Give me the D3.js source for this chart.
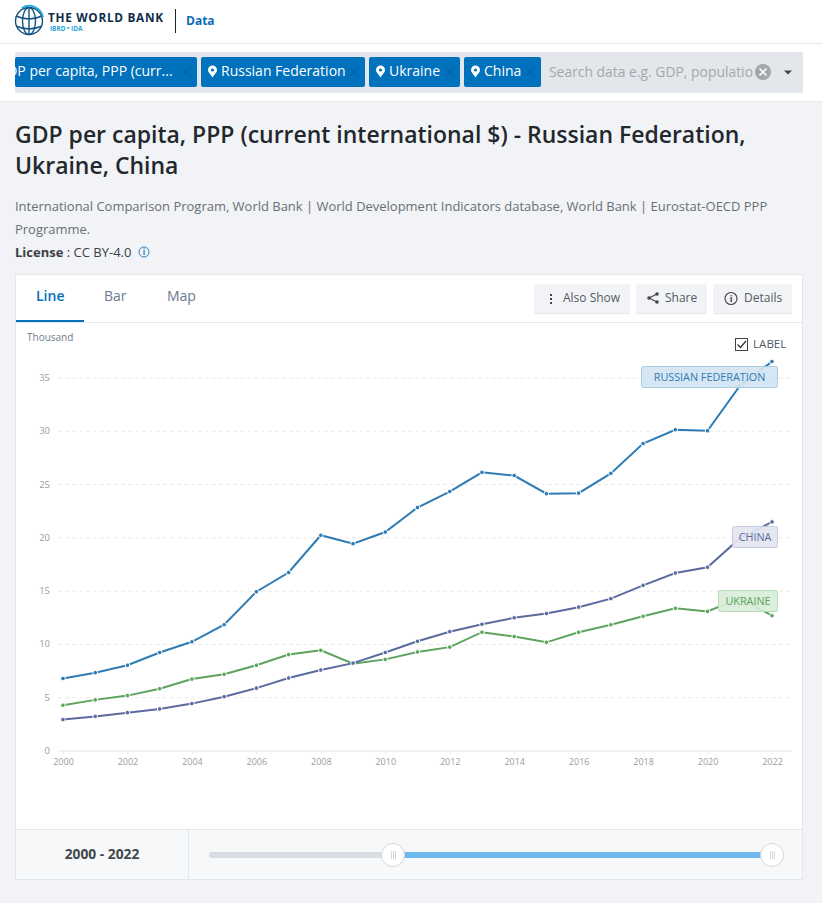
<!DOCTYPE html>
<html>
<head>
<meta charset="utf-8">
<script src="https://cdn.jsdelivr.net/npm/d3@7"></script>
<style>
  html, body { margin: 0; padding: 0; background: #f1f3f7; overflow: hidden; }
  svg { display: block; }
  text { font-family: "Open Sans", sans-serif; }
</style>
</head>
<body>
<div id="page"></div>
<script>
const WIDTH = 822;
const HEIGHT = 903;

const years = d3.range(2000, 2023);
const russia = [6.75, 7.3, 8.0, 9.2, 10.2, 11.8, 14.9, 16.7, 20.2, 19.4, 20.5, 22.8, 24.3, 26.1, 25.8, 24.1, 24.15, 26.0, 28.8, 30.1, 30.0, 34.2, 36.5];
const china = [2.9, 3.2, 3.55, 3.9, 4.4, 5.05, 5.85, 6.8, 7.55, 8.2, 9.2, 10.25, 11.15, 11.85, 12.45, 12.85, 13.45, 14.25, 15.5, 16.65, 17.2, 19.9, 21.45];
const ukraine = [4.25, 4.75, 5.15, 5.8, 6.7, 7.15, 8.0, 9.0, 9.4, 8.15, 8.55, 9.25, 9.7, 11.1, 10.7, 10.15, 11.1, 11.8, 12.6, 13.35, 13.05, 14.3, 12.65];
const yTicks = [0, 5, 10, 15, 20, 25, 30, 35];
const xTicks = d3.range(2000, 2023, 2);
const seriesNames = ["RUSSIAN FEDERATION", "CHINA", "UKRAINE"];
const seriesColors = ["#2e7cb5", "#5b6a9f", "#5ea45f"];
const titleLines = ["GDP per capita, PPP (current international $) - Russian Federation,", "Ukraine, China"];
const sourceLines = ["International Comparison Program, World Bank | World Development Indicators database, World Bank | Eurostat-OECD PPP", "Programme."];
const tabs = ["Line", "Bar", "Map"];

const svg = d3.select("#page").append("svg")
    .attr("width", WIDTH)
    .attr("height", HEIGHT);

function rect(x, y, w, h, fill, stroke, r) {
    return svg.append("rect")
        .attr("x", x).attr("y", y)
        .attr("width", w).attr("height", h)
        .attr("rx", r || 0)
        .attr("fill", fill)
        .attr("stroke", stroke || "none");
}

function label(x, y, str, size, color, weight, anchor) {
    return svg.append("text")
        .attr("x", x).attr("y", y)
        .attr("font-size", size)
        .attr("fill", color)
        .attr("font-weight", weight || 400)
        .attr("text-anchor", anchor || "start")
        .text(str);
}

// header
rect(0, 0, WIDTH, 44, "#fff");
rect(0, 43, WIDTH, 1, "#e6e8ea");
const globe = svg.append("g").attr("fill", "none").attr("stroke", "#16527f").attr("stroke-width", 1.4);
globe.append("circle").attr("cx", 29).attr("cy", 21).attr("r", 13.5);
globe.append("ellipse").attr("cx", 29).attr("cy", 21).attr("rx", 6.5).attr("ry", 13.5);
globe.append("path").attr("d", "M16 16Q29 22 42 16M16 26Q29 32 42 26M29 7.5V34.5");
svg.append("path").attr("d", "M22 8A14 14 0 0 1 43 17").attr("fill", "none").attr("stroke", "#29a8df").attr("stroke-width", 2);
label(48, 22, "THE WORLD BANK", 11.8, "#0f2d4a", 700).attr("textLength", 115);
label(50, 31, "IBRD • IDA", 6.4, "#2a9fd8", 700);
rect(175, 9, 1, 24, "#222");
label(186, 25, "Data", 12, "#0a6cb5", 700);

// search bar
rect(0, 44, WIDTH, 57, "#fff");
rect(0, 101, WIDTH, 1, "#e6e8ea");
rect(15, 52, 788, 41, "#e3e6ea", null, 2);
svg.append("clipPath").attr("id", "pillclip").append("rect").attr("x", 15).attr("y", 50).attr("width", 790).attr("height", 45);

const pills = [
    { x: 15, w: 182, text: "GDP per capita, PPP (curr...", tx: -3, pin: false },
    { x: 201, w: 164, text: "Russian Federation", tx: 221, pin: true },
    { x: 369, w: 91, text: "Ukraine", tx: 389, pin: true },
    { x: 464, w: 77, text: "China", tx: 484, pin: true }
];
pills.forEach(p => {
    rect(p.x, 57, p.w, 30, "#0071bc", null, 2);
    label(p.tx, 76, p.text, 14, "#fff").attr("clip-path", "url(#pillclip)");
    const cx = p.x + p.w - 11;
    svg.append("path")
        .attr("d", `M${cx - 4} 68L${cx + 4} 76M${cx + 4} 68L${cx - 4} 76`)
        .attr("stroke", "#0b5d96").attr("stroke-width", 1).attr("fill", "none");
    if (p.pin) {
        const px = p.x + 11.5;
        svg.append("path")
            .attr("d", `M${px} 77.5C${px - 2} 74 ${px - 4.5} 72.5 ${px - 4.5} 70A4.5 4.5 0 0 1 ${px + 4.5} 70C${px + 4.5} 72.5 ${px + 2} 74 ${px} 77.5Z`)
            .attr("fill", "#fff");
        svg.append("circle").attr("cx", px).attr("cy", 70).attr("r", 1.6).attr("fill", "#0071bc");
    }
});
label(549, 77, "Search data e.g. GDP, populatio", 13.9, "#a5a8ab");
svg.append("circle").attr("cx", 763).attr("cy", 72).attr("r", 8).attr("fill", "#a4a6a9");
svg.append("path").attr("d", "M759.5 68.5L766.5 75.5M766.5 68.5L759.5 75.5")
    .attr("stroke", "#fff").attr("stroke-width", 1.6);
svg.append("path").attr("d", "M784 70.5H792L788 74.5Z").attr("fill", "#444");

// title block
titleLines.forEach((t, i) => label(15, 143 + i * 31, t, 22.98, "#23282d", 600));
sourceLines.forEach((t, i) => label(15, 211 + i * 23, t, 12.97, "#6a6f74"));
const lic = label(15, 257, "", 13, "#3c4146");
lic.append("tspan").attr("font-weight", 700).text("License");
lic.append("tspan").text(" : CC BY-4.0");
svg.append("circle").attr("cx", 144).attr("cy", 252).attr("r", 5).attr("fill", "none").attr("stroke", "#2f86c4").attr("stroke-width", 1);
label(144, 255, "i", 8, "#2f86c4", 700, "middle");

// card
rect(15.5, 274.5, 787, 605, "#fff", "#e3e6ea");
rect(16, 322, 786, 1, "#e3e6ea");
tabs.forEach((t, i) => {
    label([36, 104, 167][i], 301, t, 14, i === 0 ? "#0071bc" : "#6b7a8c", i === 0 ? 600 : 400);
});
rect(16, 320, 68, 2, "#0071bc");

const buttons = [
    { x: 534, w: 96, text: "Also Show", tx: 563 },
    { x: 636, w: 71, text: "Share", tx: 665 },
    { x: 713, w: 79, text: "Details", tx: 744 }
];
buttons.forEach(b => {
    rect(b.x, 284, b.w, 30, "#f1f3f7", null, 2);
    rect(b.x, 313, b.w, 1, "#e6e8ec");
    label(b.tx, 302, b.text, 12, "#555b61");
});
d3.range(3).forEach(i => rect(550, 294 + i * 4, 2, 2, "#444"));
svg.append("path").attr("d", "M657 294L649 298L657 302").attr("fill", "none").attr("stroke", "#444").attr("stroke-width", 1.1);
[[657, 294], [649, 298], [657, 302]].forEach(c => svg.append("circle").attr("cx", c[0]).attr("cy", c[1]).attr("r", 1.8).attr("fill", "#444"));
svg.append("circle").attr("cx", 731).attr("cy", 298.5).attr("r", 6).attr("fill", "none").attr("stroke", "#444").attr("stroke-width", 1.1);
label(731, 302, "i", 9, "#444", 700, "middle");

// chart
const xScale = d3.scaleLinear().domain([2000, 2022]).range([63, 772]);
const yScale = d3.scaleLinear().domain([0, 35]).range([750.5, 377.5]);

label(27, 341, "Thousand", 10, "#6f7c8b");

const yAxis = svg.append("g")
    .attr("transform", "translate(58,0)")
    .call(d3.axisLeft(yScale).tickValues(yTicks).tickSize(0).tickPadding(8));
yAxis.select(".domain").remove();
yAxis.selectAll("text").attr("font-size", 9.5).attr("fill", "#9a9da1")
    .style("font-family", '"Open Sans", sans-serif');
yAxis.selectAll("line")
    .attr("x1", 0).attr("x2", 734)
    .attr("stroke", d => d === 0 ? "#eceef0" : "#e8eaec")
    .attr("stroke-width", d => d === 0 ? 1.5 : 1)
    .attr("stroke-dasharray", d => d === 0 ? null : "4,3");

const xAxis = svg.append("g")
    .attr("transform", "translate(0,751)")
    .call(d3.axisBottom(xScale).tickValues(xTicks).tickFormat(d3.format("d")).tickSize(3).tickPadding(5));
xAxis.select(".domain").remove();
xAxis.selectAll("line").attr("stroke", "#e4e6e9");
xAxis.selectAll("text").attr("font-size", 9).attr("fill", "#9a9da1")
    .style("font-family", '"Open Sans", sans-serif');

const line = d3.line().x((d, i) => xScale(years[i])).y(d => yScale(d));
[ukraine, china, russia].forEach((vals, k) => {
    const color = seriesColors[[2, 1, 0][k]];
    svg.append("path").datum(vals)
        .attr("d", line)
        .attr("fill", "none")
        .attr("stroke", color)
        .attr("stroke-width", 2);
    svg.append("g").selectAll("circle").data(vals).join("circle")
        .attr("cx", (d, i) => xScale(years[i]))
        .attr("cy", d => yScale(d))
        .attr("r", 2.3)
        .attr("fill", color)
        .attr("stroke", "#fff")
        .attr("stroke-width", 1);
});

// line labels
const tags = [
    { x: 641, y: 366, w: 136, h: 21, fill: "#d3e4f2", stroke: "#a8cbe4", text: "#2e7cb5" },
    { x: 732, y: 526, w: 45, h: 21, fill: "#e3e5f0", stroke: "#c6c9de", text: "#5b6a9f" },
    { x: 718, y: 590, w: 59, h: 21, fill: "#d8eed9", stroke: "#b5dcb7", text: "#5ea45f" }
];
tags.forEach((t, i) => {
    rect(t.x + 0.5, t.y + 0.5, t.w, t.h, t.fill, t.stroke, 2).attr("fill-opacity", 0.92);
    label(t.x + t.w / 2 + 0.5, t.y + 15, seriesNames[i], 10.8, t.text, 400, "middle");
});

// label checkbox
rect(735.5, 338.5, 12, 12, "#fff", "#444");
svg.append("path").attr("d", "M737.5 344.5L740.5 347.5L746 341").attr("fill", "none").attr("stroke", "#333").attr("stroke-width", 1.2);
label(753, 347.5, "LABEL", 11.6, "#555b61");

// range slider
rect(16, 829, 786, 50, "#f7f8fa");
rect(16, 829, 786, 1, "#e3e6ea");
rect(188, 830, 1, 49, "#e3e6ea");
label(102, 859, "2000 - 2022", 13.8, "#42474c", 700, "middle");
rect(209, 852, 184, 6, "#d9dde3", null, 3);
rect(393, 852, 378, 6, "#6bb8ec");
[393, 772].forEach(cx => {
    svg.append("circle").attr("cx", cx).attr("cy", 855).attr("r", 11.5).attr("fill", "#fff").attr("stroke", "#d5d7da");
    [-2, 0, 2].forEach(dx => rect(cx + dx, 851, 0.7, 8, "#c3c6ca"));
});
</script>
</body>
</html>
